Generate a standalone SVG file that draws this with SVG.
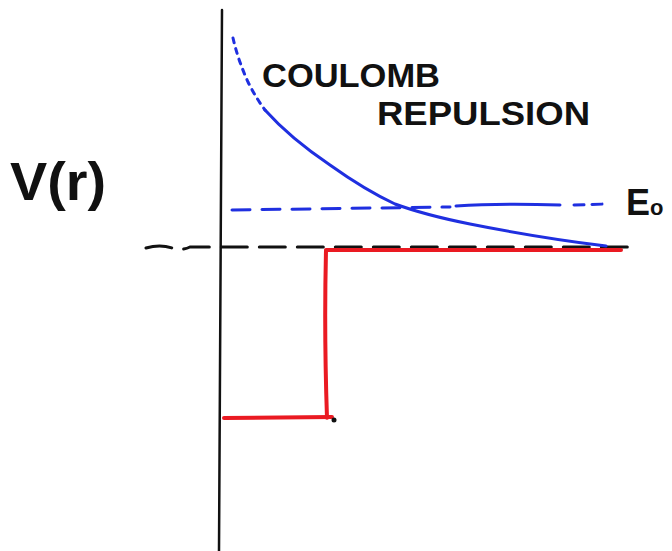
<svg xmlns="http://www.w3.org/2000/svg" width="672" height="551" viewBox="0 0 672 551">
<style>
.lbl{font-family:"Liberation Sans",Arial,sans-serif;font-weight:bold;fill:#111}
.blue{fill:none;stroke:#1f2fe0;stroke-width:3;stroke-linecap:round;stroke-linejoin:round}
.red{fill:none;stroke:#ea1a22;stroke-width:4;stroke-linecap:round;stroke-linejoin:round}
.blk{fill:none;stroke:#111;stroke-linecap:round}
</style>
<rect width="672" height="551" fill="#ffffff"/>
<g id="axis">
<path class="blk" d="M222,10 L219,551" stroke-width="2.5"/>
</g>
<g id="connectors">
<path id="zero-line" class="blk" stroke-width="3" stroke-dasharray="26,12" d="M146,248 Q160,244 172,248 Q182,251 190,247 L634,247"/>
<path id="coulomb-dots" class="blue" stroke-dasharray="5,6" d="M233,38 Q238,60 248,82 Q256,98 265,110"/>
<path id="coulomb-curve" class="blue" d="M265,110 Q290,138 330,165 Q365,190 395,204 Q425,215 470,224 Q540,238 606,246"/>
<path id="e0-line" class="blue" stroke-dasharray="18,12" d="M232,210 L450,207"/>
<path id="e0-line2" class="blue" d="M456,206 Q500,203 560,205"/>
<path id="e0-line3" class="blue" stroke-dasharray="10,8" d="M574,205 L606,204"/>
<path id="well" class="red" d="M224,418 L332,417 M327,418 Q324,330 326,251"/>
<path id="well-top" class="red" stroke-width="5" d="M326,250 L621,250"/>
<circle cx="334" cy="420" r="2.5" fill="#111"/>
</g>
<g id="label-v">
<text class="lbl" x="10" y="200" font-size="54" font-weight="normal" textLength="96" lengthAdjust="spacingAndGlyphs">V(r)</text>
</g>
<g id="label-coulomb">
<text class="lbl" x="262" y="87" font-size="34" textLength="178" lengthAdjust="spacingAndGlyphs">COULOMB</text>
<text class="lbl" x="377" y="125" font-size="34" textLength="213" lengthAdjust="spacingAndGlyphs">REPULSION</text>
</g>
<g id="label-e0">
<text class="lbl" x="626" y="215" font-size="36">E<tspan font-size="22">o</tspan></text>
</g>
</svg>
